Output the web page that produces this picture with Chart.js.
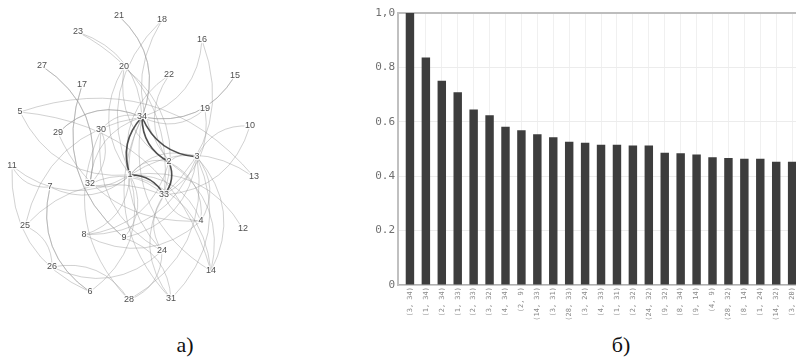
<!DOCTYPE html>
<html>
<head>
<meta charset="utf-8">
<script src="https://cdn.jsdelivr.net/npm/chart.js@4.4.1/dist/chart.umd.min.js"></script>
<style>
  html, body { margin:0; padding:0; background:#fff; width:796px; height:357px; overflow:hidden; }
  #wrapL { position:absolute; left:0; top:0; width:300px; height:320px; }
  #wrapR { position:absolute; left:360px; top:0; width:460px; height:320px; }
  .cap { position:absolute; font-family:"Liberation Serif", "DejaVu Serif", serif; font-size:22px; line-height:1; color:#111; transform:translate(-50%,-50%); }
</style>
</head>
<body>
<div id="wrapL"><canvas id="net" width="300" height="320"></canvas></div>
<div id="wrapR"><canvas id="bars" width="460" height="320"></canvas></div>
<div class="cap" style="left:185px; top:345px;">a)</div>
<div class="cap" style="left:621px; top:345px;">б)</div>
<script>
// ---------- network (panel a) ----------
const nodeIds = [1,2,3,4,5,6,7,8,9,10,11,12,13,14,15,16,17,18,19,20,21,22,23,24,25,26,27,28,29,30,31,32,33,34];
const nodeX = [130,169,197,201,20,90,50,84,124,250,12,243,254,211,235,202,82,162,205,124,119,169,78,162,25,52,42,129,58,101,171,90,164,142];
const nodeY = [175,162,157,221,112,292,187,235,238,126,166,229,177,271,76,40,85,20,109,67,16,75,32,251,226,267,66,300,133,130,299,184,195,117];
const edgeSource = [1,1,1,1,1,1,1,1,1,1,1,1,1,1,1,1, 2,2,2,2,2,2,2, 3,3,3,3,3,3,3, 4,4,4, 5,5, 6,6,6, 7, 9,9,9, 10, 14, 15,15, 16,16, 19,19, 20, 21,21, 23,23, 24,24,24,24,24, 25,25,25, 26, 27,27, 28, 29,29, 30,30, 31,31, 32,32, 33];
const edgeTarget = [2,3,4,5,6,7,8,9,11,12,13,14,18,20,22,32, 3,4,8,14,18,20,22,31, 4,8,9,10,14,28,29,33, 8,13,14, 7,11, 7,11,17, 17, 31,33,34, 34, 34, 33,34, 33,34, 33,34, 34, 33,34, 33,34, 26,28,30,33,34, 26,28,32, 32, 30,34, 34, 32,34, 33,34, 33,34, 33,34, 34];

// ---------- link scores (panel б) ----------
const pairA = [3,1,2,1,2,3,4,2,14,3,28,3,4,1,2,24,9,8,9,4,28,8,1,14,3];
const pairB = [34,34,34,33,33,32,34,9,33,31,33,24,33,31,32,32,32,34,14,9,32,14,24,32,20];
const scores = [1.0,0.836,0.751,0.709,0.645,0.624,0.582,0.569,0.554,0.543,0.527,0.523,0.516,0.516,0.513,0.513,0.486,0.484,0.480,0.470,0.467,0.464,0.464,0.453,0.453];
const yTickLabels = ['0','0.2','0.4','0.6','0.8','1,0'];
const highlightCount = 5;

const pairLabels = pairA.map((a,i) => '(' + a + ', ' + pairB[i] + ')');
const edges = [];
for (let i = 0; i < Math.min(edgeSource.length, edgeTarget.length); i++) edges.push([edgeSource[i], edgeTarget[i]]);

function curve(ctx, p, q, k) {
  const dx = q.x - p.x, dy = q.y - p.y;
  const mx = (p.x + q.x) / 2, my = (p.y + q.y) / 2;
  ctx.beginPath();
  ctx.moveTo(p.x, p.y);
  ctx.quadraticCurveTo(mx + k * dy, my - k * dx, q.x, q.y);
  ctx.stroke();
}

const edgePlugin = {
  id: 'edges',
  beforeDatasetsDraw(chart) {
    const pts = chart.getDatasetMeta(0).data;
    const ctx = chart.ctx;
    const at = id => pts[nodeIds.indexOf(id)];
    ctx.save();
    ctx.lineCap = 'round';
    ctx.strokeStyle = 'rgba(150,150,150,0.55)';
    ctx.lineWidth = 0.8;
    edges.forEach(([a,b]) => { curve(ctx, at(Math.min(a,b)), at(Math.max(a,b)), 0.34); });
    ctx.strokeStyle = 'rgba(60,60,60,0.9)';
    ctx.lineWidth = 1.6;
    for (let i = 0; i < highlightCount; i++) {
      curve(ctx, at(Math.min(pairA[i], pairB[i])), at(Math.max(pairA[i], pairB[i])), 0.3);
    }
    ctx.restore();
  },
  afterDatasetsDraw(chart) {
    const pts = chart.getDatasetMeta(0).data;
    const ctx = chart.ctx;
    ctx.save();
    ctx.font = '9px "Liberation Sans", Arial, sans-serif';
    ctx.textAlign = 'center';
    ctx.textBaseline = 'middle';
    pts.forEach((p, i) => {
      ctx.lineWidth = 2.5;
      ctx.strokeStyle = 'rgba(255,255,255,0.85)';
      ctx.strokeText(String(nodeIds[i]), p.x, p.y);
      ctx.fillStyle = '#505050';
      ctx.fillText(String(nodeIds[i]), p.x, p.y);
    });
    ctx.restore();
  }
};

new Chart(document.getElementById('net'), {
  type: 'scatter',
  data: { datasets: [{ data: nodeIds.map((id,i) => ({x: nodeX[i], y: nodeY[i]})), pointRadius: 0, pointHoverRadius: 0 }] },
  options: {
    responsive: false, animation: false, devicePixelRatio: 1,
    layout: { padding: 0 },
    plugins: { legend: { display: false }, tooltip: { enabled: false } },
    scales: {
      x: { type: 'linear', min: 0, max: 300, display: false },
      y: { type: 'linear', min: 0, max: 320, reverse: true, display: false }
    }
  },
  plugins: [edgePlugin]
});

new Chart(document.getElementById('bars'), {
  type: 'bar',
  data: { datasets: [{
    data: scores.map((v,i) => ({x: i, y: v})),
    backgroundColor: '#3d3d3d',
    barPercentage: 0.53,
    categoryPercentage: 1
  }] },
  options: {
    responsive: false, animation: false, devicePixelRatio: 1,
    layout: { padding: { top: 13, right: 0, left: 0, bottom: 0 } },
    plugins: { legend: { display: false }, tooltip: { enabled: false } },
    scales: {
      x: {
        type: 'linear', min: -0.75, max: 25.75, bounds: 'data', offset: false,
        afterBuildTicks: s => { s.ticks = pairLabels.map((_, i) => ({ value: i })); },
        afterFit: s => { s.height = 35; s.paddingLeft = 0; s.paddingRight = 0; },
        ticks: {
          autoSkip: false,
          minRotation: 90, maxRotation: 90, padding: 2,
          color: '#8a8a8a',
          font: { family: '"DejaVu Sans Mono", monospace', size: 7 },
          callback: v => (Number.isInteger(v) && v >= 0 && v < pairLabels.length) ? pairLabels[v] : ''
        },
        grid: { color: '#f0f0f0', drawTicks: false, lineWidth: 1, offset: false },
        border: { color: '#b0b0b0', width: 1.5 }
      },
      y: {
        min: 0, max: 1,
        afterFit: s => { s.width = 38; s.paddingTop = 0; s.paddingBottom = 0; },
        ticks: {
          stepSize: 0.2, padding: 3, color: '#707070',
          font: { family: '"DejaVu Sans Mono", monospace', size: 11 },
          callback: v => yTickLabels[Math.round(v / 0.2)]
        },
        grid: {
          drawTicks: false,
          color: c => (c.tick && c.tick.value === 1) ? '#bdbdbd' : '#ececec',
          lineWidth: c => (c.tick && c.tick.value === 1) ? 2 : 1
        },
        border: { color: '#c0c0c0', width: 2 }
      }
    }
  }
});
</script>
</body>
</html>
